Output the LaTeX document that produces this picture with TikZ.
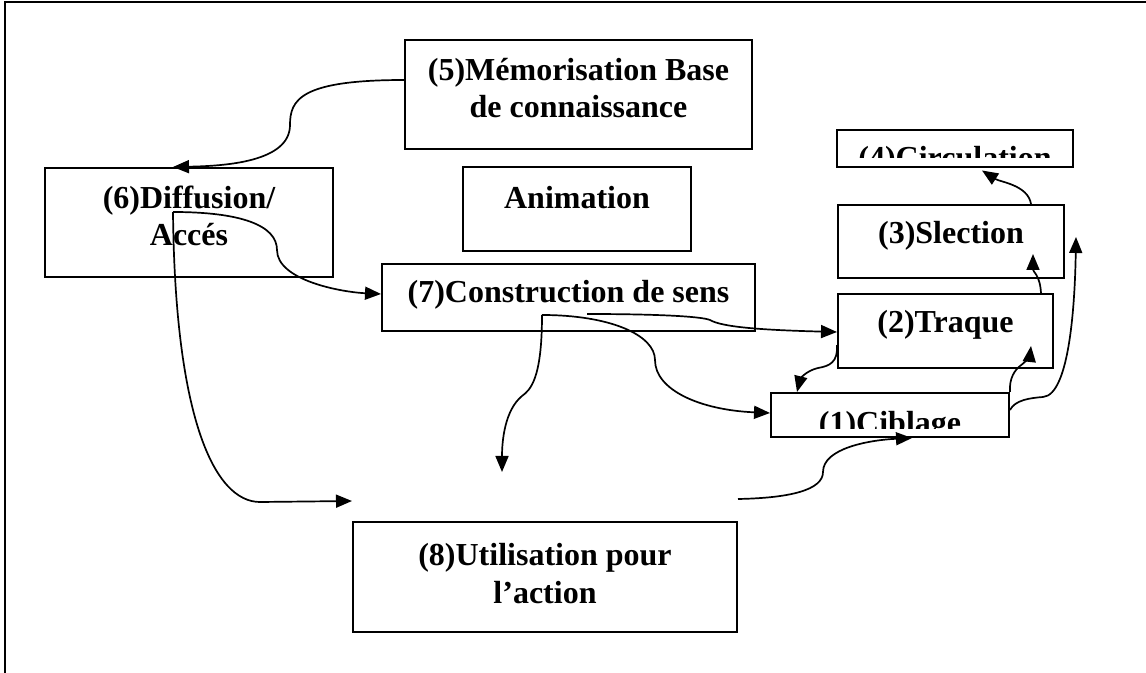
\documentclass[tikz,border=0pt]{standalone}
\usepackage{fontspec}
\setmainfont{Liberation Serif}
\usetikzlibrary{positioning,calc,arrows.meta}

\begin{document}
\begin{tikzpicture}[x=0.5pt,y=-0.5pt,
    box/.style={draw, line width=1pt, inner sep=0pt},
    lbl/.style={font=\fontsize{16}{18.5}\selectfont\bfseries, align=center, inner sep=0pt},
    conn/.style={line width=0.85pt, -{Triangle[length=8pt,width=6.5pt]}}]
    \useasboundingbox (0,0) rectangle (1146,673);

    % Frame
    \draw[line width=1.2pt] (5,673) -- (5,2) -- (1146,2);

    % Boxes
    \node[box, minimum width=173.5pt, minimum height=54.5pt] (mem) at (578.5,94.5) {};
    \node[box, minimum width=114pt, minimum height=42pt] (anim) at (577,209) {};
    \node[box, minimum width=144pt, minimum height=54.5pt] (diff) at (189,222.5) {};
    \node[box, minimum width=186.5pt, minimum height=33.5pt] (cons) at (568.5,297.5) {};
    \node[box, minimum width=118pt, minimum height=18.5pt] (circ) at (955,148.5) {};
    \node[box, minimum width=113pt, minimum height=36.5pt] (sel) at (951,241.5) {};
    \node[box, minimum width=107.5pt, minimum height=37pt] (traq) at (945.5,331) {};
    \node[box, minimum width=119pt, minimum height=22pt] (cib) at (890,415) {};
    \node[box, minimum width=192pt, minimum height=55pt] (util) at (545,577) {};

    % Texts (base = last line)
    \node[lbl, anchor=base] (memtxt) at (578.5,118) {(5)Mémorisation Base\\de connaissance};
    \node[lbl, anchor=base] (animtxt) at (577,209) {Animation};
    \node[lbl, anchor=base] (difftxt) at (189,246) {(6)Diffusion/\\Accés};
    \node[lbl, anchor=base] (constxt) at (568.5,303) {(7)Construction de sens};
    \node[lbl, anchor=base] (seltxt) at (951,244) {(3)Slection};
    \node[lbl, anchor=base] (traqtxt) at (945.5,333) {(2)Traque};
    \node[lbl, anchor=base] (utiltxt) at (545,603) {(8)Utilisation pour\\l’action};
    \begin{scope}
        \clip (circ.north west) rectangle ($(circ.south east)+(0,-10)$);
        \node[lbl, anchor=base] (circtxt) at (955,169) {(4)Circulation};
    \end{scope}
    \begin{scope}
        \clip (cib.north west) rectangle ($(cib.south east)+(0,-9)$);
        \node[lbl, anchor=base] (cibtxt) at (890,434) {(1)Ciblage};
    \end{scope}

    % Connectors
    \draw[conn] ($(mem.west)+(0,-14.5)$) .. controls (300,80) and (290,100) .. (290,125)
        .. controls (290,162) and (225,166) .. ($(diff.north)+(-16,0)$);
    \draw[conn] ($(diff.center)+(-16,-10.5)$) .. controls (240,212) and (277,225) .. (277,250)
        .. controls (277,280) and (340,292) .. ($(cons.west)+(0,-3.5)$);
    \coordinate (utilin) at ($(util.north west)+(0,-20)$);
    \draw[conn] ($(diff.center)+(-16,-10.5)$) .. controls (175,420) and (215,502) .. (260,502) -- (utilin);
    \coordinate (utiltop) at ($(util.north)+(-43,-49)$);
    \draw[conn] ($(cons.center)+(-26.5,17.5)$) .. controls (542,380) and (530,390) .. (522,396)
        .. controls (505,410) and (502,440) .. (utiltop);
    \draw[conn] ($(cons.center)+(-26.5,17.5)$) .. controls (610,315) and (655,335) .. (655,360)
        .. controls (655,390) and (700,410) .. ($(cib.west)+(0,-2)$);
    \draw[conn] ($(cons.center)+(18.5,16.5)$) .. controls (650,314) and (700,316) .. (710,320)
        .. controls (722,327) and (760,330) .. ($(traq.west)+(0,1)$);
    \draw[conn] ($(traq.west)+(0,14)$) .. controls (838,362) and (830,366) .. (818,368)
        .. controls (805,371) and (800,380) .. ($(cib.north west)+(27,0)$);
    \draw[conn] (cib.north east) .. controls (1009,378) and (1015,370) .. (1020,366)
        .. controls (1028,360) and (1030,355) .. ($(traq.south east)+(-23,-23)$);
    \draw[conn] ($(cib.east)+(0,-5)$) .. controls (1015,400) and (1030,398) .. (1043,397)
        .. controls (1070,395) and (1075,300) .. ($(sel.east)+(11,-4.5)$);
    \draw[conn] ($(traq.north east)+(-13,0)$) .. controls (1040,275) and (1033,272) .. ($(sel.south east)+(-32,-25)$);
    \draw[conn] ($(sel.north east)+(-34,0)$) .. controls (1028,185) and (1000,182) .. ($(circ.south)+(27,2.5)$);
    \draw[conn] ($(util.north east)+(0,-22)$) .. controls (790,498) and (823,490) .. (823,472)
        .. controls (823,448) and (870,440) .. ($(cib.south)+(22,0)$);
\end{tikzpicture}
\end{document}
